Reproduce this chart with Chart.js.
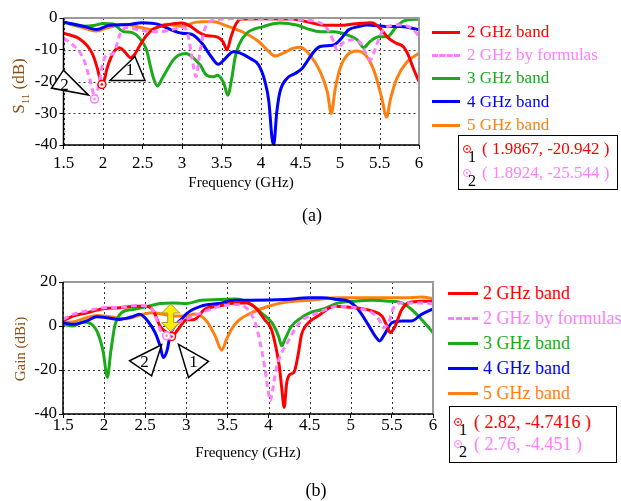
<!DOCTYPE html>
<html>
<head>
<meta charset="utf-8">
<script src="https://cdn.jsdelivr.net/npm/chart.js@4.4.0/dist/chart.umd.min.js"></script>
<style>
body { margin:0; width:621px; height:501px; background:#fff; position:relative; overflow:hidden;
       font-family:"Liberation Serif","Times New Roman",serif; color:#000; }
canvas { position:absolute; }
.t { position:absolute; white-space:nowrap; }
.rot { transform:translate(-50%,-50%) rotate(-90deg); color:#8c4c10; }
.ctr { transform:translate(-50%,-50%); }
.box { position:absolute; border:1.5px solid #000; box-sizing:border-box; }
.mk { position:absolute; width:8px; height:8px; border:1.5px solid; border-radius:50%; box-sizing:border-box; }
.mk::after { content:""; position:absolute; left:1.5px; top:1.5px; width:2px; height:2px; border-radius:50%; background:currentColor; }
.lg { position:absolute; height:0; }
</style>
</head>
<body>
<canvas id="chartA" width="440" height="200" style="left:0;top:0"></canvas>
<canvas id="chartB" width="440" height="200" style="left:0;top:260px"></canvas>

<div class="t rot" style="left:20px;top:86px;font-size:17px">S<sub style="font-size:11px">11</sub> (dB)</div>
<div class="t ctr" style="left:241px;top:182px;font-size:15px">Frequency (GHz)</div>
<div class="t rot" style="left:20px;top:349px;font-size:15px">Gain (dBi)</div>
<div class="t ctr" style="left:248px;top:452px;font-size:15px">Frequency (GHz)</div>
<div class="t ctr" style="left:312px;top:215px;font-size:18px">(a)</div>
<div class="t ctr" style="left:316px;top:490px;font-size:18px">(b)</div>

<div id="legA"></div>
<div id="legB"></div>

<script>
const seriesNames = ["2 GHz band", "2 GHz by formulas", "3 GHz band", "4 GHz band", "5 GHz band"];
const seriesColors = ["#ff0000", "#ff7dff", "#1aaa1a", "#0000ff", "#ff8010"];

// ---- (a) S11 (dB) ----
const freqA2 = [1.5,1.6,1.7,1.8,1.87,1.93,1.97,1.987,2.01,2.05,2.1,2.15,2.21,2.27,2.35,2.4,2.47,2.55,2.65,2.8,3.0,3.1,3.2,3.3,3.45,3.52,3.57,3.62,3.68,3.75,4.0,4.4,4.6,4.8,5.0,5.2,5.4,5.5,5.6,5.7,5.8,5.87,5.93,6.0];
const s11Band2 = [-4.8,-5.5,-6.5,-8.7,-11.5,-16,-20,-20.9,-20.2,-16,-12.5,-10.2,-9.4,-10.5,-12.5,-11.5,-8.5,-5.5,-3.3,-2.2,-1.6,-2.5,-4.3,-5.5,-6,-7.5,-10,-6,-2,-0.3,-0.2,-0.3,-1.3,-2.3,-2.3,-1.8,-1.5,-3,-6,-7.8,-9,-12,-16,-20];
const freqAF = [1.5,1.62,1.75,1.83,1.87,1.892,1.92,1.96,2.0,2.05,2.1,2.15,2.2,2.25,2.3,2.5,2.7,2.9,3.0,3.06,3.11,3.15,3.18,3.22,3.27,3.33,3.45,3.8,4.2,4.5,4.7,4.83,4.92,4.96,5.03,5.13,5.24,5.34,5.38,5.45,5.51,5.6,5.77,5.93,6.0];
const s11Formula = [-6.4,-8.5,-12.7,-19,-23,-25.5,-24,-19,-14,-11.6,-11.5,-10.5,-6,-3.7,-3,-4,-4.3,-3.5,-3,-4,-10,-16,-18.5,-12,-5,-1.5,-0.5,-0.2,-0.2,-0.6,-1.1,-3.2,-7.4,-10,-8,-6.9,-7.4,-11.7,-13.2,-9.5,-5.3,-2.7,-2.2,-3.7,-5.9];
const freqA3 = [1.5,1.75,1.9,2.0,2.13,2.25,2.38,2.46,2.55,2.6,2.64,2.69,2.75,2.81,2.89,2.95,3.05,3.15,3.23,3.31,3.4,3.45,3.53,3.58,3.63,3.67,3.72,3.82,4.03,4.24,4.45,4.6,4.75,4.92,5.09,5.22,5.3,5.38,5.49,5.6,5.7,5.81,6.0];
const s11Band3 = [-1.3,-2.6,-2.3,-1.7,-1.9,-4.2,-4.7,-6.3,-10,-15.2,-19,-21.4,-19,-16.4,-13.2,-11.8,-11.2,-12.7,-14.8,-18,-18.5,-18,-20.6,-24.3,-19,-12.7,-8.5,-4.8,-2.7,-1.6,-2.2,-3.5,-4.3,-4.3,-5.3,-6.9,-9.3,-7.4,-5.9,-5.9,-3.2,-0.9,-0.3];
const freqA4 = [1.5,1.75,1.92,2.08,2.3,2.5,2.7,2.85,3.0,3.12,3.25,3.37,3.46,3.55,3.65,3.73,3.86,3.97,4.05,4.1,4.14,4.16,4.2,4.24,4.33,4.43,4.52,4.58,4.67,4.75,4.92,5.0,5.11,5.24,5.34,5.6,5.77,6.0];
const s11Band4 = [-1.3,-2.6,-3.6,-2.3,-2.1,-1.5,-2.0,-3.6,-4.8,-5.1,-7.9,-12.2,-14.6,-12.7,-10.6,-11,-12.7,-14.8,-20,-26.4,-38,-40,-29.6,-23.3,-19,-17.5,-15.9,-13.8,-10.6,-9,-8.5,-6.9,-3.7,-2.7,-2.2,-2.7,-2.7,-3.7];
const freqA5 = [1.5,1.75,1.92,2.05,2.3,2.46,2.6,2.8,3.0,3.18,3.38,3.59,3.8,3.97,4.1,4.18,4.28,4.41,4.5,4.62,4.75,4.84,4.89,4.94,5.0,5.09,5.22,5.34,5.45,5.53,5.59,5.64,5.72,5.85,6.0];
const s11Band5 = [-1.3,-3.1,-4.1,-3.1,-2,-2.9,-3.6,-2,-2.6,-1.3,-1.1,-2.7,-4.8,-7.4,-10.6,-12,-11.1,-9.5,-9.2,-11.7,-16.9,-23.3,-30,-22.2,-15.9,-11.7,-10.4,-12.2,-18,-25.4,-31.2,-25.4,-19,-13.8,-11.1];
const markerA1 = [1.9867, -20.942];
const markerA2 = [1.8924, -25.544];

// ---- (b) Gain (dBi) ----
const freqB2 = [1.5,1.62,1.79,1.99,2.19,2.39,2.51,2.6,2.68,2.76,2.82,2.9,2.96,3.0,3.1,3.22,3.39,3.59,3.73,3.85,3.95,4.03,4.08,4.13,4.16,4.19,4.22,4.26,4.31,4.36,4.4,4.46,4.6,4.8,5.05,5.26,5.38,5.44,5.48,5.54,5.62,5.7,5.86,6.0];
const gainBand2 = [2.3,4.5,6,7.8,8.3,9,9,6.8,0,-3,-4.74,-1.5,1.5,2.8,3,7.5,9,10.5,10.5,8,3,-1,-8,-18,-28,-37,-26,-22,-21,-13,-4,0.5,4.5,9,8.3,6.8,4.5,0,-3,0,7.5,10.5,11.3,11.3];
const freqBF = [1.5,1.62,1.79,1.99,2.19,2.39,2.51,2.6,2.64,2.68,2.72,2.76,2.8,2.86,2.94,3.0,3.18,3.39,3.59,3.7,3.78,3.85,3.9,3.95,3.99,4.02,4.05,4.09,4.15,4.23,4.32,4.4,4.5,4.65,4.85,5.05,5.26,5.34,5.4,5.46,5.52,5.62,5.82,6.0];
const gainFormula = [3,5.3,6.8,8.3,8.5,9.3,9,6.8,3,-1.5,-3.8,-4.45,-3,0,2.3,3,6,8.7,9.8,9,6,0,-8,-18,-28,-34,-29,-20,-13,-7.5,-1.5,2.5,4.5,6.8,9,8.3,6,3,-0.75,1.5,8.3,10.5,10.5,10.2];
const freqB3 = [1.5,1.62,1.75,1.85,1.93,1.99,2.04,2.08,2.13,2.21,2.35,2.51,2.68,2.84,3.0,3.18,3.39,3.59,3.67,3.79,3.91,4.04,4.12,4.16,4.2,4.28,4.4,4.5,4.65,4.85,5.05,5.26,5.46,5.62,5.74,5.86,6.0];
const gainBand3 = [0.75,0,1.8,0.75,-3.8,-12,-23.3,-12,0,6,7.5,8.7,10.2,10.5,10.2,11.7,12,12.3,12,9.8,6,1.5,-4.5,-9,-6,0,3.8,6,7.5,10.5,11.3,11.7,11.3,10.5,7.5,3,-3];
const freqB4 = [1.5,1.62,1.79,1.91,2.03,2.19,2.33,2.43,2.53,2.62,2.68,2.72,2.77,2.8,2.86,2.96,3.0,3.18,3.39,3.59,3.79,4.2,4.5,4.65,4.85,4.97,5.09,5.21,5.31,5.35,5.41,5.5,5.62,5.74,5.86,6.0];
const gainBand4 = [1.5,0.75,2.3,4.2,3.8,3,4.1,5.3,2.3,-3,-9,-14.3,-10.5,-4.5,0,3.8,5.5,9,10.2,11.7,11.7,12,12.8,12.8,12,11.3,7.5,0.75,-5.3,-6.8,-3.8,1.5,2.3,2.3,5.3,7.8];
const freqB5 = [1.5,1.62,1.79,1.91,2.07,2.27,2.47,2.6,2.72,2.84,3.0,3.1,3.18,3.26,3.35,3.43,3.49,3.55,3.63,3.79,4.0,4.2,4.5,4.85,5.26,5.66,5.86,6.0];
const gainBand5 = [1.5,1.8,3.8,4.8,4.2,3.3,5.3,6,5.3,4.5,4.5,5.5,4.5,1.5,-4.5,-11,-6,-1.5,2.3,6,9,10.8,11.7,12.8,12.8,12.8,13.2,12.5];
const markerB1 = [2.82, -4.7416];
const markerB2 = [2.76, -4.451];
const arrowB = [2.81, 10, -2.5];   // x, top, bottom of the yellow arrow

const serif = "'Liberation Serif', 'Times New Roman', serif";
const pts = (xs, ys) => xs.map((x, i) => ({x: x, y: ys[i]}));

function drawMarker(ctx, px, py, color) {
  ctx.strokeStyle = color; ctx.lineWidth = 1.5; ctx.fillStyle = '#fff';
  ctx.beginPath(); ctx.arc(px, py, 4, 0, Math.PI * 2); ctx.fill(); ctx.stroke();
  ctx.fillStyle = color;
  ctx.beginPath(); ctx.arc(px, py, 1.3, 0, Math.PI * 2); ctx.fill();
}

const extras = {
  id: 'extras',
  beforeDatasetsDraw(chart) {
    // dotted grid
    const {ctx, chartArea: a, scales: {x, y}} = chart;
    ctx.save();
    ctx.strokeStyle = '#333'; ctx.lineWidth = 1; ctx.setLineDash([2, 3]);
    x.ticks.forEach(t => {
      const p = Math.round(x.getPixelForValue(t.value)) + 0.5;
      ctx.beginPath(); ctx.moveTo(p, a.top); ctx.lineTo(p, a.bottom); ctx.stroke();
    });
    y.ticks.forEach(t => {
      const p = Math.round(y.getPixelForValue(t.value)) + 0.5;
      ctx.beginPath(); ctx.moveTo(a.left, p); ctx.lineTo(a.right, p); ctx.stroke();
    });
    ctx.restore();
  },
  afterDatasetsDraw(chart, args, o) {
    const {ctx, chartArea: a, scales: {x, y}} = chart;
    ctx.save();
    ctx.strokeStyle = '#9a9a9a'; ctx.lineWidth = 2;
    ctx.beginPath(); ctx.moveTo(a.left, a.top); ctx.lineTo(a.right, a.top); ctx.lineTo(a.right, a.bottom); ctx.stroke();
    ctx.strokeStyle = '#000'; ctx.lineWidth = 1.5;
    ctx.beginPath(); ctx.moveTo(a.left, a.top); ctx.lineTo(a.left, a.bottom); ctx.lineTo(a.right, a.bottom); ctx.stroke();

    if (o.arrow) {
      const ax = x.getPixelForValue(o.arrow[0]);
      const t = y.getPixelForValue(o.arrow[1]), b = y.getPixelForValue(o.arrow[2]);
      ctx.fillStyle = '#ffee00'; ctx.strokeStyle = '#a09a40'; ctx.lineWidth = 1;
      ctx.beginPath();
      ctx.moveTo(ax, t); ctx.lineTo(ax + 9, t + 9); ctx.lineTo(ax + 3, t + 9);
      ctx.lineTo(ax + 3, b - 9); ctx.lineTo(ax + 9, b - 9); ctx.lineTo(ax, b);
      ctx.lineTo(ax - 9, b - 9); ctx.lineTo(ax - 3, b - 9); ctx.lineTo(ax - 3, t + 9);
      ctx.lineTo(ax - 9, t + 9); ctx.closePath(); ctx.fill(); ctx.stroke();
    }

    o.markers.forEach(m => {
      const px = x.getPixelForValue(m.at[0]), py = y.getPixelForValue(m.at[1]);
      drawMarker(ctx, px, py, m.color);
    });

    o.markers.forEach(m => {
      const px = x.getPixelForValue(m.at[0]), py = y.getPixelForValue(m.at[1]);
      ctx.fillStyle = '#fff'; ctx.strokeStyle = '#000'; ctx.lineWidth = 1.5;
      ctx.beginPath();
      m.tri.forEach((p, i) => i ? ctx.lineTo(px + p[0], py + p[1]) : ctx.moveTo(px + p[0], py + p[1]));
      ctx.closePath(); ctx.fill(); ctx.stroke();
      ctx.fillStyle = '#000'; ctx.font = '17px ' + serif;
      ctx.textAlign = 'center'; ctx.textBaseline = 'middle';
      ctx.fillText(m.label, px + m.lab[0], py + m.lab[1]);
    });
    ctx.restore();
  }
};

function makeChart(id, sets, yMin, yMax, yStep, labelStep, pad, xH, xPad, extraOpts) {
  const order = [1, 0, 3, 2, 4];
  new Chart(document.getElementById(id), {
    type: 'scatter',
    data: {
      datasets: sets.map((s, i) => ({
        label: seriesNames[i],
        data: pts(s[0], s[1]),
        showLine: true,
        borderColor: seriesColors[i],
        borderWidth: 3,
        borderDash: i === 1 ? [6, 4] : [],
        pointRadius: 0,
        cubicInterpolationMode: 'monotone',
        order: order[i]
      }))
    },
    options: {
      responsive: false,
      animation: false,
      layout: {padding: pad},
      plugins: {legend: {display: false}, tooltip: {enabled: false}, extras: extraOpts},
      scales: {
        x: {
          type: 'linear', min: 1.5, max: 6,
          afterFit: s => { s.height = xH; },
          ticks: {stepSize: 0.5, padding: xPad, color: '#000', font: {family: serif, size: 17},
                  callback: v => String(v), maxRotation: 0},
          grid: {drawOnChartArea: false, color: '#000', lineWidth: 1, tickLength: 4},
          border: {display: false}
        },
        y: {
          min: yMin, max: yMax,
          afterFit: s => { s.width = pad.leftAxis; },
          ticks: {stepSize: yStep, padding: 2, color: '#000', font: {family: serif, size: 17},
                  callback: v => (v % labelStep === 0 ? String(v) : '')},
          grid: {drawOnChartArea: false, color: '#000', lineWidth: 1, tickLength: 4},
          border: {display: false}
        }
      }
    },
    plugins: [extras]
  });
}

makeChart('chartA',
  [[freqA2, s11Band2], [freqAF, s11Formula], [freqA3, s11Band3], [freqA4, s11Band4], [freqA5, s11Band5]],
  -40, 0, 5, 10, {top: 18, right: 21, left: 0, bottom: 0, leftAxis: 63.5}, 55, 4,
  {markers: [
    {at: markerA1, color: seriesColors[0], tri: [[8, -4], [33, -28], [43, -4]], label: '1', lab: [28, -14]},
    {at: markerA2, color: seriesColors[1], tri: [[-43, -11], [-31, -29], [-6, -4]], label: '2', lab: [-30, -14]}
  ]});

makeChart('chartB',
  [[freqB2, gainBand2], [freqBF, gainFormula], [freqB3, gainBand3], [freqB4, gainBand4], [freqB5, gainBand5]],
  -40, 20, 10, 10, {top: 22, right: 7, left: 0, bottom: 0, leftAxis: 63}, 46, -3,
  {arrow: arrowB, markers: [
    {at: markerB1, color: seriesColors[0], tri: [[7, 8], [37, 25], [17, 41]], label: '1', lab: [22, 26]},
    {at: markerB2, color: seriesColors[1], tri: [[-37, 25], [-5, 9], [-15, 40]], label: '2', lab: [-22, 27]}
  ]});

// legends and marker boxes
function legend(el, x0, len, tx, ys, fs) {
  let h = '';
  seriesNames.forEach((n, i) => {
    const c = seriesColors[i];
    const st = i === 1 ? 'dashed' : 'solid';
    h += `<div class="lg" style="left:${x0}px;top:${ys[i] - 1.5}px;width:${len}px;border-top:3px ${st} ${c}"></div>`;
    h += `<div class="t" style="left:${tx}px;top:${ys[i] - 11}px;line-height:22px;font-size:${fs}px;color:${c}">${n}</div>`;
  });
  el.innerHTML = h;
}
legend(document.getElementById('legA'), 432, 28, 467, [32, 55, 78, 101.5, 125], 17);
legend(document.getElementById('legB'), 448, 30, 483, [293, 318, 343, 368, 393], 18);

function box(el, l, t, w, h, rows, fs, tx) {
  let s = `<div class="box" style="left:${l}px;top:${t}px;width:${w}px;height:${h}px">`;
  rows.forEach((r, i) => {
    s += `<div class="mk" style="left:4px;top:${r.y - 4}px;color:${r.color};border-color:${r.color}"></div>`;
    s += `<div class="t" style="left:9px;top:${r.y - 1}px;font-size:16px;line-height:18px">${i + 1}</div>`;
    s += `<div class="t" style="left:${tx}px;top:${r.y - 11}px;line-height:22px;font-size:${fs}px;color:${r.color}">( ${r.v[0]}, ${r.v[1]} )</div>`;
  });
  el.insertAdjacentHTML('beforeend', s + '</div>');
}
box(document.body, 458, 135, 160, 55,
  [{y: 13, color: seriesColors[0], v: markerA1}, {y: 37, color: seriesColors[1], v: markerA2}], 17, 23);
box(document.body, 449, 406, 168, 57,
  [{y: 15, color: seriesColors[0], v: markerB1}, {y: 37, color: seriesColors[1], v: markerB2}], 18, 24);
</script>
</body>
</html>
